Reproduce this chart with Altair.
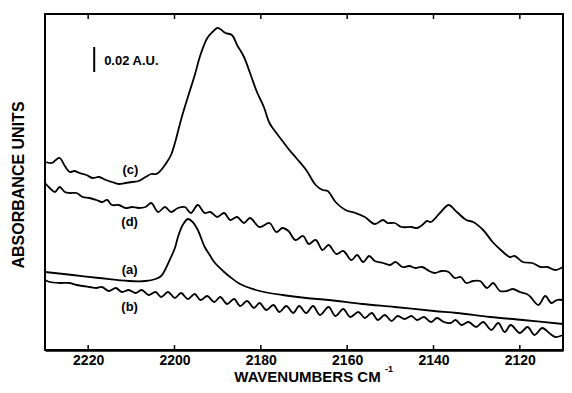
import altair as alt
import pandas as pd

# ---- traced spectra (wavenumber cm-1, absorbance AU, arbitrary offset) ----
c_wn = [2230.0, 2228.4, 2227.5, 2226.6, 2225.4, 2224.3, 2223.2, 2222.0, 2220.4, 2219.0,
        2217.5, 2215.9, 2214.5, 2212.9, 2211.3, 2209.9, 2208.3, 2206.7, 2205.4, 2204.2,
        2203.1, 2201.9, 2200.8, 2199.9, 2198.5, 2196.9, 2195.3, 2194.0, 2192.4, 2191.2,
        2190.1, 2189.4, 2188.2, 2186.7, 2185.5, 2183.9, 2182.5, 2180.9, 2179.3, 2178.0,
        2176.4, 2174.8, 2173.4, 2171.8, 2169.5, 2167.3, 2165.7, 2164.5, 2162.7, 2160.4,
        2158.1, 2155.9, 2153.6, 2151.7, 2150.6, 2149.0, 2147.4, 2145.1, 2143.8, 2142.6,
        2141.5, 2140.6, 2138.3, 2136.5, 2134.6, 2132.4, 2130.8, 2128.5, 2126.3, 2124.4,
        2122.3, 2121.2, 2119.3, 2117.1, 2115.2, 2113.6, 2111.8, 2110.0]
c_abs = [0.1504, 0.1496, 0.1520, 0.1536, 0.1472, 0.1424, 0.1432, 0.1416, 0.1400, 0.1376,
         0.1384, 0.1360, 0.1344, 0.1328, 0.1336, 0.1344, 0.1352, 0.1384, 0.1408, 0.1408,
         0.1440, 0.1496, 0.1560, 0.1656, 0.1840, 0.2024, 0.2200, 0.2360, 0.2496, 0.2544,
         0.2576, 0.2568, 0.2536, 0.2520, 0.2440, 0.2344, 0.2216, 0.2064, 0.1944, 0.1816,
         0.1736, 0.1664, 0.1600, 0.1536, 0.1440, 0.1320, 0.1280, 0.1272, 0.1184, 0.1120,
         0.1096, 0.1064, 0.1008, 0.1040, 0.1016, 0.1016, 0.0984, 0.0984, 0.0976, 0.1000,
         0.1032, 0.1024, 0.1104, 0.1160, 0.1104, 0.1040, 0.1024, 0.0960, 0.0864, 0.0800,
         0.0744, 0.0752, 0.0704, 0.0696, 0.0664, 0.0664, 0.0640, 0.0664]

d_wn = [2230.0, 2228.9, 2227.7, 2226.6, 2225.4, 2224.3, 2222.7, 2221.3, 2219.7, 2218.1,
        2216.8, 2215.6, 2214.5, 2212.9, 2211.3, 2209.9, 2208.3, 2206.7, 2205.4, 2203.8,
        2202.2, 2200.8, 2199.2, 2197.6, 2196.2, 2194.6, 2193.0, 2191.7, 2190.1, 2188.5,
        2187.1, 2185.5, 2183.9, 2182.5, 2180.3, 2178.0, 2176.4, 2175.0, 2173.6, 2172.0,
        2170.2, 2168.9, 2167.3, 2165.7, 2164.3, 2162.5, 2160.9, 2159.0, 2157.7, 2156.3,
        2154.9, 2153.6, 2151.7, 2150.1, 2148.8, 2147.2, 2145.6, 2144.2, 2142.6, 2141.0,
        2139.7, 2138.1, 2136.5, 2135.1, 2133.7, 2132.4, 2130.8, 2129.2, 2127.6, 2126.2,
        2124.6, 2123.0, 2121.6, 2120.0, 2118.4, 2117.5, 2115.7, 2114.1, 2112.7, 2111.4,
        2110.0]
d_abs = [0.1336, 0.1296, 0.1264, 0.1304, 0.1264, 0.1256, 0.1256, 0.1224, 0.1216, 0.1200,
         0.1184, 0.1200, 0.1160, 0.1160, 0.1136, 0.1144, 0.1136, 0.1144, 0.1176, 0.1104,
         0.1144, 0.1104, 0.1136, 0.1144, 0.1096, 0.1160, 0.1096, 0.1104, 0.1064, 0.1096,
         0.1040, 0.1064, 0.1016, 0.1056, 0.0984, 0.1016, 0.0944, 0.0976, 0.0952, 0.0880,
         0.0912, 0.0848, 0.0880, 0.0800, 0.0840, 0.0768, 0.0792, 0.0720, 0.0760, 0.0704,
         0.0752, 0.0712, 0.0696, 0.0680, 0.0704, 0.0664, 0.0672, 0.0656, 0.0664, 0.0632,
         0.0616, 0.0632, 0.0624, 0.0576, 0.0584, 0.0536, 0.0552, 0.0552, 0.0496, 0.0536,
         0.0472, 0.0472, 0.0488, 0.0464, 0.0448, 0.0424, 0.0360, 0.0432, 0.0376, 0.0400,
         0.0400]

a_wn = [2230.0, 2223.6, 2217.5, 2210.6, 2206.7, 2204.4, 2203.1, 2202.2, 2200.8, 2199.9,
        2199.2, 2198.1, 2196.9, 2195.8, 2194.6, 2193.0, 2191.7, 2190.8, 2188.5, 2187.1,
        2184.8, 2183.2, 2180.3, 2175.0, 2169.5, 2164.3, 2156.5, 2149.0, 2139.9, 2134.6,
        2126.9, 2119.3, 2110.0]
a_abs = [0.0624, 0.0600, 0.0576, 0.0552, 0.0552, 0.0568, 0.0592, 0.0640, 0.0744, 0.0816,
         0.0904, 0.1000, 0.1048, 0.1024, 0.0960, 0.0824, 0.0752, 0.0704, 0.0624, 0.0584,
         0.0528, 0.0504, 0.0472, 0.0440, 0.0416, 0.0400, 0.0368, 0.0344, 0.0312, 0.0296,
         0.0264, 0.0240, 0.0208]

b_wn = [2230.0, 2228.9, 2226.6, 2224.3, 2222.7, 2221.3, 2219.7, 2218.1, 2216.8, 2215.2,
        2213.6, 2212.2, 2210.6, 2209.0, 2207.6, 2206.0, 2204.4, 2203.1, 2201.5, 2199.9,
        2198.5, 2196.9, 2195.3, 2194.0, 2192.4, 2190.8, 2189.4, 2187.8, 2186.2, 2184.8,
        2183.2, 2181.6, 2180.3, 2178.7, 2177.1, 2175.7, 2174.1, 2172.5, 2171.1, 2169.5,
        2167.9, 2166.3, 2164.3, 2162.7, 2160.9, 2159.3, 2157.4, 2155.9, 2154.3, 2152.9,
        2151.3, 2149.7, 2148.3, 2146.7, 2145.1, 2143.8, 2142.2, 2140.6, 2139.2, 2137.6,
        2136.0, 2134.9, 2133.5, 2131.9, 2130.1, 2128.5, 2126.6, 2125.0, 2123.5, 2122.1,
        2120.0, 2118.2, 2116.6, 2114.8, 2113.2, 2111.8, 2110.0]
b_abs = [0.0560, 0.0544, 0.0536, 0.0536, 0.0520, 0.0512, 0.0504, 0.0496, 0.0504, 0.0472,
         0.0496, 0.0464, 0.0480, 0.0456, 0.0480, 0.0440, 0.0464, 0.0424, 0.0464, 0.0416,
         0.0456, 0.0408, 0.0448, 0.0400, 0.0432, 0.0384, 0.0424, 0.0368, 0.0408, 0.0352,
         0.0392, 0.0336, 0.0376, 0.0320, 0.0360, 0.0304, 0.0352, 0.0296, 0.0352, 0.0296,
         0.0352, 0.0280, 0.0344, 0.0272, 0.0328, 0.0264, 0.0304, 0.0256, 0.0296, 0.0240,
         0.0280, 0.0232, 0.0272, 0.0248, 0.0272, 0.0240, 0.0264, 0.0224, 0.0256, 0.0224,
         0.0216, 0.0240, 0.0200, 0.0224, 0.0184, 0.0224, 0.0160, 0.0216, 0.0144, 0.0200,
         0.0136, 0.0184, 0.0120, 0.0176, 0.0136, 0.0104, 0.0120]

label_text = ["(c)", "(d)", "(a)", "(b)"]
label_wn = [2210.2, 2210.4, 2210.4, 2210.4]
label_abs = [0.1440, 0.1024, 0.0640, 0.0344]

tick_values = [2220, 2200, 2180, 2160, 2140, 2120]

bar_wn = [2218.6]
bar_lo = [0.2224]
bar_hi = [0.2424]
bar_text = ["0.02 A.U."]
bar_text_wn = [2216.3]
bar_text_abs = [0.2312]

X_DOMAIN = [2110, 2230]
Y_DOMAIN = [0, 0.2688]

W, H = 518, 336

rows = []
for name, wn, ab in [("c", c_wn, c_abs), ("d", d_wn, d_abs), ("a", a_wn, a_abs), ("b", b_wn, b_abs)]:
    for w, v in zip(wn, ab):
        rows.append({"series": name, "wn": w, "abs": v})
spectra = pd.DataFrame(rows)

xscale = alt.Scale(domain=X_DOMAIN, reverse=True, nice=False, zero=False)
yscale = alt.Scale(domain=Y_DOMAIN, nice=False, zero=False)

FONT = "Liberation Sans"

lines = alt.Chart(spectra).mark_line(
    color="black", strokeWidth=1.8, interpolate="catmull-rom"
).encode(
    x=alt.X("wn:Q", scale=xscale,
            axis=alt.Axis(values=tick_values, format="d", ticks=False, grid=False,
                          domainColor="black", domainWidth=2.5,
                          labelFont=FONT, labelFontSize=14, labelFontWeight="bold",
                          labelColor="black", labelPadding=3, title="WAVENUMBERS CM",
                          titleFont=FONT, titleFontSize=15, titleFontWeight="bold",
                          titleColor="black", titleX=262, titleY=31,
                          titleBaseline="alphabetic")),
    y=alt.Y("abs:Q", scale=yscale, axis=None),
    detail="series:N",
)

ticks_df = pd.DataFrame({"wn": tick_values})
bottom_ticks = alt.Chart(ticks_df).mark_rule(color="black", strokeWidth=1.5).encode(
    x=alt.X("wn:Q", scale=xscale), y=alt.value(H), y2=alt.value(H - 5))
top_ticks = alt.Chart(ticks_df).mark_rule(color="black", strokeWidth=1.5).encode(
    x=alt.X("wn:Q", scale=xscale), y=alt.value(0), y2=alt.value(5))

frame_top = alt.Chart(ticks_df.head(1)).mark_rule(color="black", strokeWidth=2).encode(
    x=alt.value(0), x2=alt.value(W), y=alt.value(0))
frame_left = alt.Chart(ticks_df.head(1)).mark_rule(color="black", strokeWidth=2).encode(
    x=alt.value(0), y=alt.value(0), y2=alt.value(H))
frame_right = alt.Chart(ticks_df.head(1)).mark_rule(color="black", strokeWidth=2).encode(
    x=alt.value(W), y=alt.value(0), y2=alt.value(H))

labels = alt.Chart(pd.DataFrame({"t": label_text, "wn": label_wn, "abs": label_abs})).mark_text(
    font=FONT, fontSize=13, fontWeight="bold", color="black", align="center", baseline="middle"
).encode(x=alt.X("wn:Q", scale=xscale), y=alt.Y("abs:Q", scale=yscale), text="t:N")

bar = alt.Chart(pd.DataFrame({"wn": bar_wn, "lo": bar_lo, "hi": bar_hi})).mark_rule(
    color="black", strokeWidth=2
).encode(x=alt.X("wn:Q", scale=xscale), y=alt.Y("lo:Q", scale=yscale), y2="hi:Q")

bar_label = alt.Chart(pd.DataFrame({"t": bar_text, "wn": bar_text_wn, "abs": bar_text_abs})).mark_text(
    font=FONT, fontSize=13, fontWeight="bold", color="black", align="left", baseline="middle"
).encode(x=alt.X("wn:Q", scale=xscale), y=alt.Y("abs:Q", scale=yscale), text="t:N")

ytitle = alt.Chart(pd.DataFrame({"t": ["ABSORBANCE UNITS"]})).mark_text(
    font=FONT, fontSize=16, fontWeight="bold", color="black", angle=270,
    align="center", baseline="middle"
).encode(x=alt.value(-26), y=alt.value(171), text="t:N")

sup = alt.Chart(pd.DataFrame({"t": ["-1"]})).mark_text(
    font=FONT, fontSize=9, fontWeight="bold", color="black", align="left",
    baseline="alphabetic"
).encode(x=alt.value(340), y=alt.value(358), text="t:N")

chart = alt.layer(lines, bottom_ticks, top_ticks, frame_top, frame_left, frame_right,
                  labels, bar, bar_label, ytitle, sup).properties(
    width=W, height=H,
    padding={"left": 37, "top": 6, "right": 1, "bottom": 35},
    autosize=alt.AutoSizeParams(type="none"),
    background="white",
).configure_view(stroke="black", strokeWidth=2)

chart.save("out.html", embed_options={"renderer": "svg", "actions": False})
